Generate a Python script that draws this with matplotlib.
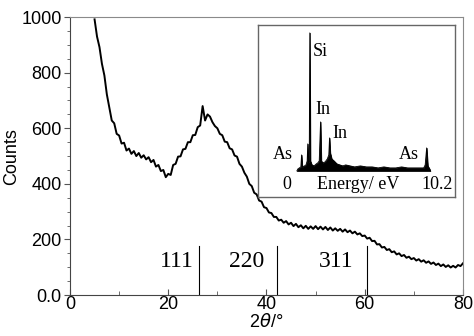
import numpy as np
import matplotlib.pyplot as plt

plt.rcParams['font.family'] = ['Liberation Sans', 'DejaVu Sans']

# XRD pattern, 2theta from 5 to 80 deg in 0.5 deg steps
two_theta = np.arange(5.0, 80.01, 0.5)
counts = [
    992, 930, 892, 832, 790, 722, 676, 628, 618, 580,
    574, 545, 548, 520, 527, 508, 518, 500, 511, 494,
    503, 488, 496, 478, 486, 462, 468, 446, 450, 424,
    436, 432, 468, 472, 498, 499, 524, 526, 550, 550,
    575, 576, 604, 610, 680, 628, 650, 642, 622, 608,
    600, 580, 575, 552, 550, 528, 524, 502, 498, 472,
    462, 440, 426, 400, 392, 368, 362, 340, 336, 316,
    313, 297, 295, 281, 281, 268, 271, 260, 266, 254,
    260, 248, 256, 244, 251, 240, 249, 238, 247, 238,
    248, 237, 246, 236, 245, 234, 243, 232, 240, 231,
    238, 228, 236, 226, 232, 222, 228, 218, 222, 212,
    214, 203, 206, 194, 195, 182, 183, 171, 173, 162,
    165, 154, 157, 146, 150, 140, 144, 134, 138, 129,
    133, 124, 129, 120, 125, 116, 121, 112, 117, 108,
    113, 104, 110, 101, 107, 99, 105, 99, 108, 104,
    114,
]

# reflection markers
hkl_labels = ['111', '220', '311']
hkl_pos = [26.3, 42.2, 60.4]
hkl_text_x = [21.8, 36.0, 54.2]
hkl_height = 175

yticks = [0, 200, 400, 600, 800, 1000]
ytick_labels = ['0.0', '200', '400', '600', '800', '1000']
xticks = [0, 20, 40, 60, 80]

# EDX spectrum for the inset (relative heights)
energy = [0.68, 0.75, 0.85, 0.95, 1.0, 1.05, 1.2, 1.3, 1.38, 1.42, 1.46, 1.52,
          1.56, 1.6, 1.7, 1.85, 2.0, 2.1, 2.2, 2.29, 2.34, 2.45, 2.6, 2.75,
          2.85, 2.9, 2.95, 3.05, 3.2, 3.4, 3.6, 3.8, 4.0, 4.3, 4.6, 5.0,
          5.4, 5.8, 6.2, 6.6, 7.0, 7.4, 7.8, 8.2, 8.6, 9.0, 9.3, 9.4,
          9.5, 9.58, 9.7, 9.75]
edx = [0, 2, 3, 4, 16, 4, 5, 6, 10, 27, 8, 10,
       138, 10, 6, 5, 7, 8, 10, 49, 10, 8, 9, 12,
       16, 33, 18, 12, 10, 7, 6, 5, 6, 5, 4, 5,
       4, 4, 3, 4, 3, 3, 4, 3, 3, 3, 3, 6,
       23, 5, 2, 0]

fig = plt.figure(figsize=(4.74, 3.36), dpi=100)
ax = fig.add_axes([0.1477, 0.122, 0.829, 0.827])

ax.plot(two_theta, counts, color='black', lw=1.4)

for p, t, lab in zip(hkl_pos, hkl_text_x, hkl_labels):
    ax.plot([p, p], [0, hkl_height], color='black', lw=0.8)
    ax.text(t, 119, lab, ha='center', va='center', fontsize=17,
            family='Liberation Serif')

ax.set_xlim(0, 80)
ax.set_ylim(0, 1000)
ax.set_xticks(xticks)
ax.set_xticks(np.arange(10, 80, 20), minor=True)
ax.set_yticks(yticks)
ax.set_yticklabels(ytick_labels)
ax.set_yticks(np.arange(50, 1000, 50), minor=True)
ax.tick_params(axis='y', which='both', direction='out', labelsize=13,
               color='#555555', pad=2)
ax.tick_params(axis='y', which='major', length=4)
ax.tick_params(axis='y', which='minor', length=2.5)
ax.tick_params(axis='x', which='both', direction='in', labelsize=13,
               color='#555555', pad=1)
ax.tick_params(axis='x', which='major', length=4)
ax.tick_params(axis='x', which='minor', length=3)
for s in ['top', 'right']:
    ax.spines[s].set_color('#8a8a8a')
for s in ['left', 'bottom']:
    ax.spines[s].set_color('#444444')
ax.set_xlabel(r'2$\theta$/°', fontsize=13, labelpad=0)
ax.set_ylabel('Counts', fontsize=13, labelpad=1)

# inset
ins = fig.add_axes([0.544, 0.414, 0.416, 0.512])
ins.fill_between(energy, 0, edx, color='black', lw=0.6)
ins.plot(energy, edx, color='black', lw=0.6)
ins.set_xlim(-1.97, 11.43)
ins.set_ylim(-26, 146)
ins.set_xticks([])
ins.set_yticks([])
for s in ins.spines.values():
    s.set_color('#666666')
    s.set_linewidth(1.0)

serif = dict(family='Liberation Serif', fontsize=13)
ins.text(0, -14, '0', ha='center', va='center', **serif)
ins.text(10.2, -14, '10.2', ha='center', va='center', **serif)
ins.text(4.83, -14, 'Energy/ eV', ha='center', va='center', **serif)
ins.text(1.75, 119, 'Si', ha='left', va='center', **serif)
ins.text(1.92, 61, 'In', ha='left', va='center', **serif)
ins.text(3.07, 37, 'In', ha='left', va='center', **serif)
ins.text(-0.27, 16, 'As', ha='center', va='center', **serif)
ins.text(8.3, 16, 'As', ha='center', va='center', **serif)

fig.savefig('out.png', dpi=100)
